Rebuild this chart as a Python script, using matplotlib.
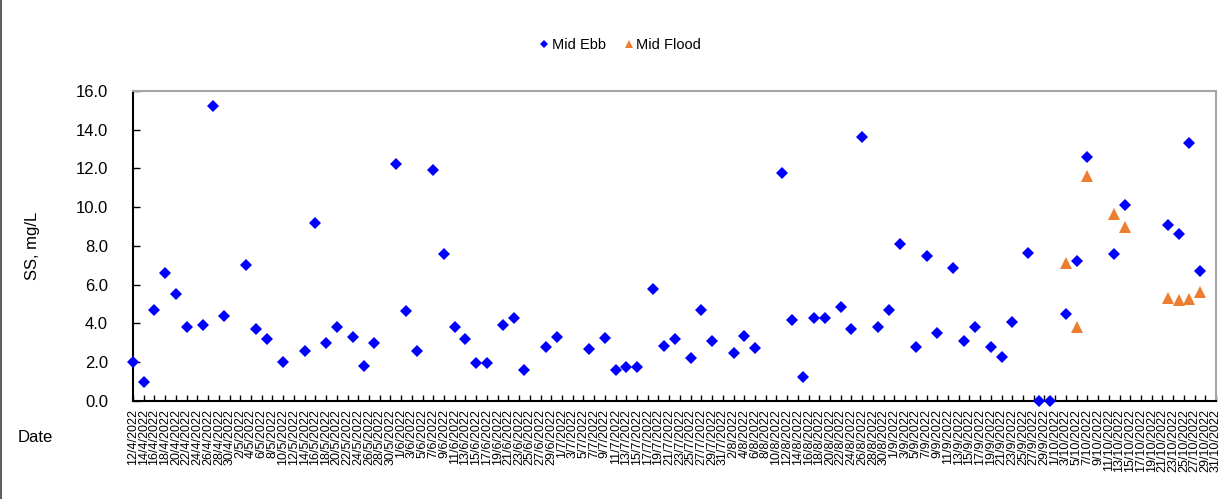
import matplotlib
matplotlib.use("Agg")
import matplotlib.pyplot as plt
import matplotlib.dates as mdates
from matplotlib.lines import Line2D
import pandas as pd

plt.rcParams['font.family'] = ['Liberation Sans', 'DejaVu Sans']

ebb_dates = ["12/4/2022", "14/4/2022", "16/4/2022", "18/4/2022", "20/4/2022", "22/4/2022",
             "25/4/2022", "27/4/2022", "29/4/2022", "3/5/2022", "5/5/2022", "7/5/2022",
             "10/5/2022", "14/5/2022", "16/5/2022", "18/5/2022", "20/5/2022", "23/5/2022",
             "25/5/2022", "27/5/2022", "31/5/2022", "2/6/2022", "4/6/2022", "7/6/2022",
             "9/6/2022", "11/6/2022", "13/6/2022", "15/6/2022", "17/6/2022", "20/6/2022",
             "22/6/2022", "24/6/2022", "28/6/2022", "30/6/2022", "6/7/2022", "9/7/2022",
             "11/7/2022", "13/7/2022", "15/7/2022", "18/7/2022", "20/7/2022", "22/7/2022",
             "25/7/2022", "27/7/2022", "29/7/2022", "2/8/2022", "4/8/2022", "6/8/2022",
             "11/8/2022", "13/8/2022", "15/8/2022", "17/8/2022", "19/8/2022", "22/8/2022",
             "24/8/2022", "26/8/2022", "29/8/2022", "31/8/2022", "2/9/2022", "5/9/2022",
             "7/9/2022", "9/9/2022", "12/9/2022", "14/9/2022", "16/9/2022", "19/9/2022",
             "21/9/2022", "23/9/2022", "26/9/2022", "28/9/2022", "30/9/2022", "3/10/2022",
             "5/10/2022", "7/10/2022", "12/10/2022", "14/10/2022", "22/10/2022", "24/10/2022",
             "26/10/2022", "28/10/2022"]
ebb_values = [2.0, 1.0, 4.7, 6.6, 5.5, 3.8,
              3.9, 15.2, 4.4, 7.0, 3.7, 3.2,
              2.0, 2.6, 9.2, 3.0, 3.8, 3.3,
              1.8, 3.0, 12.2, 4.65, 2.6, 11.9,
              7.6, 3.8, 3.2, 1.95, 1.95, 3.9,
              4.3, 1.6, 2.8, 3.3, 2.7, 3.25,
              1.6, 1.75, 1.75, 5.8, 2.85, 3.2,
              2.2, 4.7, 3.1, 2.45, 3.35, 2.75,
              11.75, 4.2, 1.25, 4.3, 4.3, 4.85,
              3.7, 13.6, 3.8, 4.7, 8.1, 2.8,
              7.5, 3.5, 6.85, 3.1, 3.8, 2.8,
              2.25, 4.05, 7.65, 0.0, 0.0, 4.5,
              7.2, 12.6, 7.6, 10.1, 9.05, 8.6,
              13.3, 6.7]

flood_dates = ["3/10/2022", "5/10/2022", "7/10/2022", "12/10/2022", "14/10/2022",
               "22/10/2022", "24/10/2022", "26/10/2022", "28/10/2022"]
flood_values = [7.1, 3.8, 11.6, 9.65, 8.95, 5.3, 5.2, 5.25, 5.6]

x_start = "12/4/2022"
x_end = "31/10/2022"
y_ticks = [0, 2, 4, 6, 8, 10, 12, 14, 16]

ebb_x = pd.to_datetime(ebb_dates, format="%d/%m/%Y")
flood_x = pd.to_datetime(flood_dates, format="%d/%m/%Y")
tick_dates = pd.date_range(pd.to_datetime(x_start, format="%d/%m/%Y"),
                           pd.to_datetime(x_end, format="%d/%m/%Y"), freq="2D")
tick_labels = [f"{d.day}/{d.month}/{d.year}" for d in tick_dates]

fig = plt.figure(figsize=(12.24, 4.99), dpi=100)
ax = fig.add_axes([0.1087, 0.1964, 0.9935 - 0.1087, 0.8182 - 0.1964])

ax.plot(ebb_x, ebb_values, linestyle='none', marker='D', markersize=6.0,
        color='#0000FF', markeredgewidth=0, clip_on=False, label='Mid Ebb', zorder=3)
ax.plot(flood_x, flood_values, linestyle='none', marker='^', markersize=9,
        color='#ED7D31', markeredgewidth=0, clip_on=False, label='Mid Flood', zorder=3)

ax.set_xlim(tick_dates[0], tick_dates[-1])
ax.set_ylim(0, 16)
ax.set_yticks(y_ticks)
ax.set_yticklabels([f"{v:.1f}" for v in y_ticks], fontsize=12)
ax.set_xticks(mdates.date2num(tick_dates))
ax.set_xticklabels(tick_labels, rotation=90, fontsize=9)
ax.tick_params(axis='y', direction='in', length=5, width=1, pad=18)
ax.tick_params(axis='x', direction='in', length=4, width=1, pad=6)

for side in ['top', 'right']:
    ax.spines[side].set_color('#A6A6A6')
    ax.spines[side].set_linewidth(1.5)
for side in ['left', 'bottom']:
    ax.spines[side].set_color('#000000')
    ax.spines[side].set_linewidth(1.5)

ax.set_ylabel("SS, mg/L", fontsize=12, labelpad=26)
fig.text(18 / 1224, 1 - 438 / 499, "Date", fontsize=12, ha='left', va='center')

leg = fig.legend(loc='center', bbox_to_anchor=(0.507, 0.91), ncol=2, frameon=False,
                 fontsize=10.5, handlelength=0.6, handletextpad=0.2, columnspacing=1.3,
                 markerscale=0.7)

fig.add_artist(Line2D([0.001, 0.001], [0, 1], transform=fig.transFigure,
                      color='#404040', linewidth=1.2))

fig.savefig("out.png", dpi=100)
